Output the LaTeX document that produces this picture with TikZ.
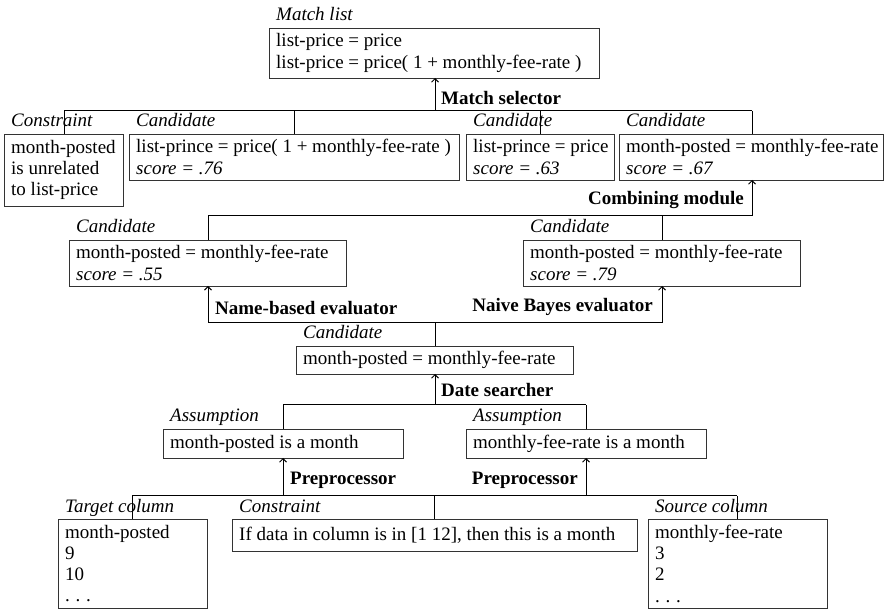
\documentclass[tikz,border=0pt]{standalone}
\usepackage{fontspec}
\setmainfont{Liberation Serif}
\usetikzlibrary{arrows.meta}
\tikzset{
  boxs/.style={draw=black!80, line width=0.9pt, inner sep=0pt, outer sep=0pt},
  boxtxt/.style={align=left, inner sep=0pt, font=\fontsize{19}{21.3}\selectfont},
  labs/.style={inner sep=0pt, font=\fontsize{19}{21.3}\selectfont\itshape},
  proc/.style={inner sep=0pt, font=\fontsize{19}{21.3}\selectfont\bfseries},
  wire/.style={draw=black, line width=1pt},
  arr/.style={draw=black, line width=1pt, -{Straight Barb[length=3.5pt,width=7pt]}}
}
\newcommand\mkbox[7]{%
  \node[boxs, minimum width=#4pt, minimum height=#5pt, anchor=north west] (#1) at (#2,#3) {};
  \node[boxtxt, anchor=west] (#1-t) at ([xshift=7pt]#1.west) {#7};
  \node[labs, anchor=base west] (#1-l) at ([xshift=7pt, yshift=7pt]#1.north west) {#6};
}
\newcommand\mydots{.\hspace{0.3em}.\hspace{0.3em}.}
\begin{document}
\begin{tikzpicture}[x=1pt, y=-1pt]
\useasboundingbox (0,0) rectangle (884,609);

% boxes
\mkbox{match}{269}{28}{330}{50}{Match list}{list-price = price\\list-price = price( 1 + monthly-fee-rate )}
\mkbox{consA}{4}{134}{119}{72}{Constraint}{month-posted\\is unrelated\\to list-price}
\mkbox{candA}{129}{134}{330}{46}{Candidate}{list-prince = price( 1 + monthly-fee-rate )\\\textit{score = .76}}
\mkbox{candB}{466}{134}{148}{46}{Candidate}{list-prince = price\\\textit{score = .63}}
\mkbox{candC}{619}{134}{264}{46}{Candidate}{month-posted = monthly-fee-rate\\\textit{score = .67}}
\mkbox{candD}{69}{240}{277}{46}{Candidate}{month-posted = monthly-fee-rate\\\textit{score = .55}}
\mkbox{candE}{523}{240}{277}{46}{Candidate}{month-posted = monthly-fee-rate\\\textit{score = .79}}
\mkbox{candF}{296}{346}{277}{28}{Candidate}{month-posted = monthly-fee-rate}
\mkbox{asmA}{163}{429}{240}{29}{Assumption}{month-posted is a month}
\mkbox{asmB}{466}{429}{240}{29}{Assumption}{monthly-fee-rate is a month}
\mkbox{target}{58}{519}{149}{89}{Target column}{month-posted\\9\\10\\\mydots}
\mkbox{consB}{232}{519}{405}{32}{Constraint}{If data in column is in [1 12], then this is a month}
\mkbox{source}{648}{519}{179}{89}{Source column}{monthly-fee-rate\\3\\2\\\mydots}

% Match selector
\coordinate (msL) at (64,111);
\coordinate (msA) at (294,111);
\coordinate (ms) at (435,111);
\coordinate (msB) at (540,111);
\coordinate (msR) at (752,111);
\draw[wire] (msL) -- (msR);
\draw[wire] (msL) -- (msL |- consA.north);
\draw[wire] (msA) -- (msA |- candA.north);
\draw[wire] (msB) -- (msB |- candB.north);
\draw[wire] (msR) -- (msR |- candC.north);
\draw[arr] (ms) -- (ms |- match.south);
\node[proc, anchor=base west] (msl) at (441,105) {Match selector};

% Combining module
\coordinate (cmL) at (208,216);
\coordinate (cmM) at (662,216);
\coordinate (cm) at (752,216);
\draw[wire] (cmL) -- (cm);
\draw[wire] (cmL) -- (cmL |- candD.north);
\draw[wire] (cmM) -- (cmM |- candE.north);
\draw[arr] (cm) -- (cm |- candC.south);
\node[proc, anchor=base east] (cml) at (744,205) {Combining module};

% Evaluators
\coordinate (evL) at (208,323);
\coordinate (evM) at (435,323);
\coordinate (evR) at (662,323);
\draw[wire] (evL) -- (evR);
\draw[arr] (evL) -- (evL |- candD.south);
\draw[arr] (evR) -- (evR |- candE.south);
\draw[wire] (evM) -- (evM |- candF.north);
\node[proc, anchor=base west] (evll) at (215,315) {Name-based evaluator};
\node[proc, anchor=base east] (evrl) at (653,312) {Naive Bayes evaluator};

% Date searcher
\coordinate (dsL) at (283,405);
\coordinate (ds) at (435,405);
\coordinate (dsR) at (586,405);
\draw[wire] (dsL) -- (dsR);
\draw[wire] (dsL) -- (dsL |- asmA.north);
\draw[wire] (dsR) -- (dsR |- asmB.north);
\draw[arr] (ds) -- (ds |- candF.south);
\node[proc, anchor=base west] (dsl) at (441,397) {Date searcher};

% Preprocessors
\coordinate (ppL) at (132,496);
\coordinate (ppA) at (283,496);
\coordinate (ppM) at (434,496);
\coordinate (ppB) at (586,496);
\coordinate (ppR) at (737,496);
\draw[wire] (ppL) -- (ppR);
\draw[wire] (ppL) -- (ppL |- target.north);
\draw[wire] (ppM) -- (ppM |- consB.north);
\draw[wire] (ppR) -- (ppR |- source.north);
\draw[arr] (ppA) -- (ppA |- asmA.south);
\draw[arr] (ppB) -- (ppB |- asmB.south);
\node[proc, anchor=base west] (ppal) at (290,485) {Preprocessor};
\node[proc, anchor=base east] (ppbl) at (578,485) {Preprocessor};
\end{tikzpicture}
\end{document}
